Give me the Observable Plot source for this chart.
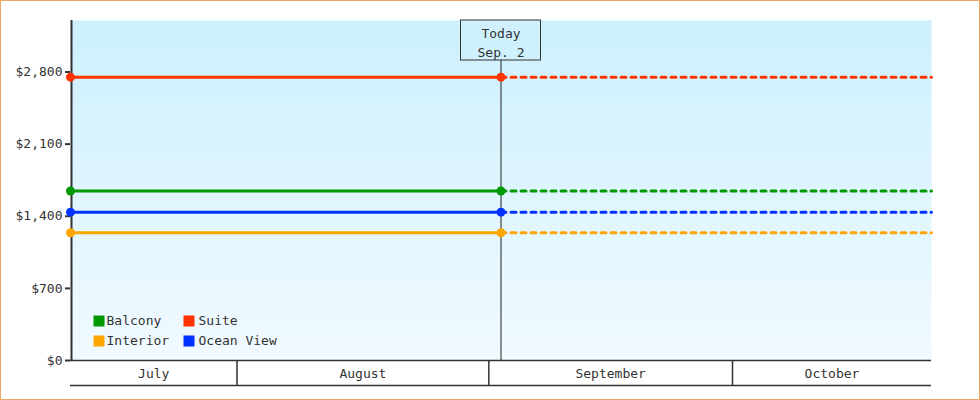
<!DOCTYPE html>
<html><head><meta charset="utf-8">
<script src="https://cdn.jsdelivr.net/npm/d3@7"></script>
<script src="https://cdn.jsdelivr.net/npm/@observablehq/plot@0.6"></script>
<style>
html,body{margin:0;padding:0;background:#fff;}
#chart svg{display:block; outline:1px solid #EBA865; outline-offset:-1px;}
</style></head><body><div id="chart"></div>
<script>
// ---- data ----
const seriesNames = ["Suite", "Balcony", "Ocean View", "Interior"];
const seriesPrices = [2750, 1645, 1440, 1240];
const seriesColors = ["#FF3300", "#009900", "#0033FF", "#FFA500"];
const legendOrder = ["Balcony", "Suite", "Interior", "Ocean View"];
const monthNames = ["July", "August", "September", "October"];
const monthStarts = ["2024-07-01T00:00", "2024-08-01T00:00", "2024-09-01T00:00", "2024-10-01T00:00", "2024-11-01T00:00"];
const windowStart = "2024-07-11T12:00";
const todayDate = "2024-09-02T12:00";
const windowEnd = "2024-10-25T12:00";
const todayLabel = "Today\nSep. 2";
const yTicks = [0, 700, 1400, 2100, 2800];
const yMax = 3300;

// ---- derived ----
const T0 = new Date(windowStart), T1 = new Date(todayDate), T2 = new Date(windowEnd);
const rows = seriesNames.map((name, i) => ({name, price: seriesPrices[i]}));
const solid = rows.flatMap(r => [{...r, date: T0}, {...r, date: T1}]);
const dashed = rows.flatMap(r => [{...r, date: T1}, {...r, date: T2}]);
const starts = monthStarts.map(s => new Date(s));
const monthCells = monthNames.map((name, i) => {
  const a = Math.max(+starts[i], +T0), b = Math.min(+starts[i + 1], +T2);
  return {name, center: new Date((a + b) / 2)};
});
const boundaries = starts.filter(d => d > T0 && d < T2);
const todayRow = [{date: T1, lo: 0, hi: yMax, label: todayLabel}];
const ink = "#333";
const font = "DejaVu Sans Mono";

const gradientDefs = () => {
  const defs = d3.create("svg:defs");
  const g = defs.append("linearGradient").attr("id", "bgGrad")
    .attr("x1", 0).attr("y1", 0).attr("x2", 0).attr("y2", 1);
  g.append("stop").attr("offset", "0%").attr("stop-color", "#CCF0FD");
  g.append("stop").attr("offset", "100%").attr("stop-color", "#F1FAFF");
  return defs.node();
};

const legendMarks = legendOrder.flatMap((name, i) => {
  const col = i % 2, row = Math.floor(i / 2);
  return [
    Plot.dot([name], {frameAnchor: "bottom-left", symbol: "square", r: 11 / Math.sqrt(Math.PI),
      fill: d => d, dx: 28.5 + col * 90, dy: -39.5 + row * 20}),
    Plot.text([name], {frameAnchor: "bottom-left", text: d => d, textAnchor: "start",
      dx: 36 + col * 92, dy: -36 + row * 20, fill: ink, fontSize: 13, fontFamily: font})
  ];
});

const chart = Plot.plot({
  width: 980, height: 400,
  marginLeft: 70, marginRight: 49, marginTop: 20, marginBottom: 40,
  style: {fontFamily: font, fontSize: "13px", color: ink, background: "#fff"},
  x: {type: "time", domain: [T0, T2]},
  y: {domain: [0, yMax]},
  color: {domain: seriesNames, range: seriesColors},
  marks: [
    gradientDefs,
    Plot.frame({fill: "url(#bgGrad)", stroke: "none"}),
    // today line & box
    Plot.ruleX(todayRow, {x: "date", y1: "lo", y2: "hi", stroke: "#222", strokeWidth: 1}),
    Plot.rect(todayRow, {x1: "date", x2: "date", y1: "hi", y2: "hi",
      insetLeft: -40, insetRight: -40, insetBottom: -40, fill: "#CEF1FD", stroke: ink, strokeWidth: 1}),
    Plot.text(todayRow, {x: "date", y: "hi", text: "label", lineAnchor: "top", dy: 4,
      lineHeight: 1.46, fill: ink, fontSize: 13, fontFamily: font}),
    // y axis
    Plot.axisY({ticks: yTicks, tickFormat: d3.format("$,"), tickSize: 5, tickPadding: 3,
      stroke: ink, fill: ink, strokeWidth: 2, fontSize: 13, fontFamily: font, label: null}),
    Plot.ruleX([T0], {x: d => d, stroke: ink, strokeWidth: 2, dx: 1}),
    // bottom month band
    Plot.ruleY([0], {x1: T0, x2: T2, y: d => d, stroke: ink, strokeWidth: 1.5}),
    Plot.ruleY([0], {x1: T0, x2: T2, y: d => d, dy: 25, stroke: ink, strokeWidth: 1.5}),
    Plot.axisX({ticks: boundaries, tickSize: 25, tickFormat: () => "", stroke: ink, strokeWidth: 1.5, label: null}),
    Plot.text(monthCells, {x: "center", y: () => 0, dy: 13, text: "name", fill: ink, fontSize: 13, fontFamily: font}),
    // series
    Plot.line(dashed, {x: "date", y: "price", z: "name", stroke: "name", strokeWidth: 3, strokeDasharray: "5,5"}),
    Plot.line(solid, {x: "date", y: "price", z: "name", stroke: "name", strokeWidth: 3}),
    Plot.dot(solid, {x: "date", y: "price", fill: "name", r: 4.5}),
    ...legendMarks
  ]
});
document.getElementById("chart").append(chart);
</script>
</body></html>
